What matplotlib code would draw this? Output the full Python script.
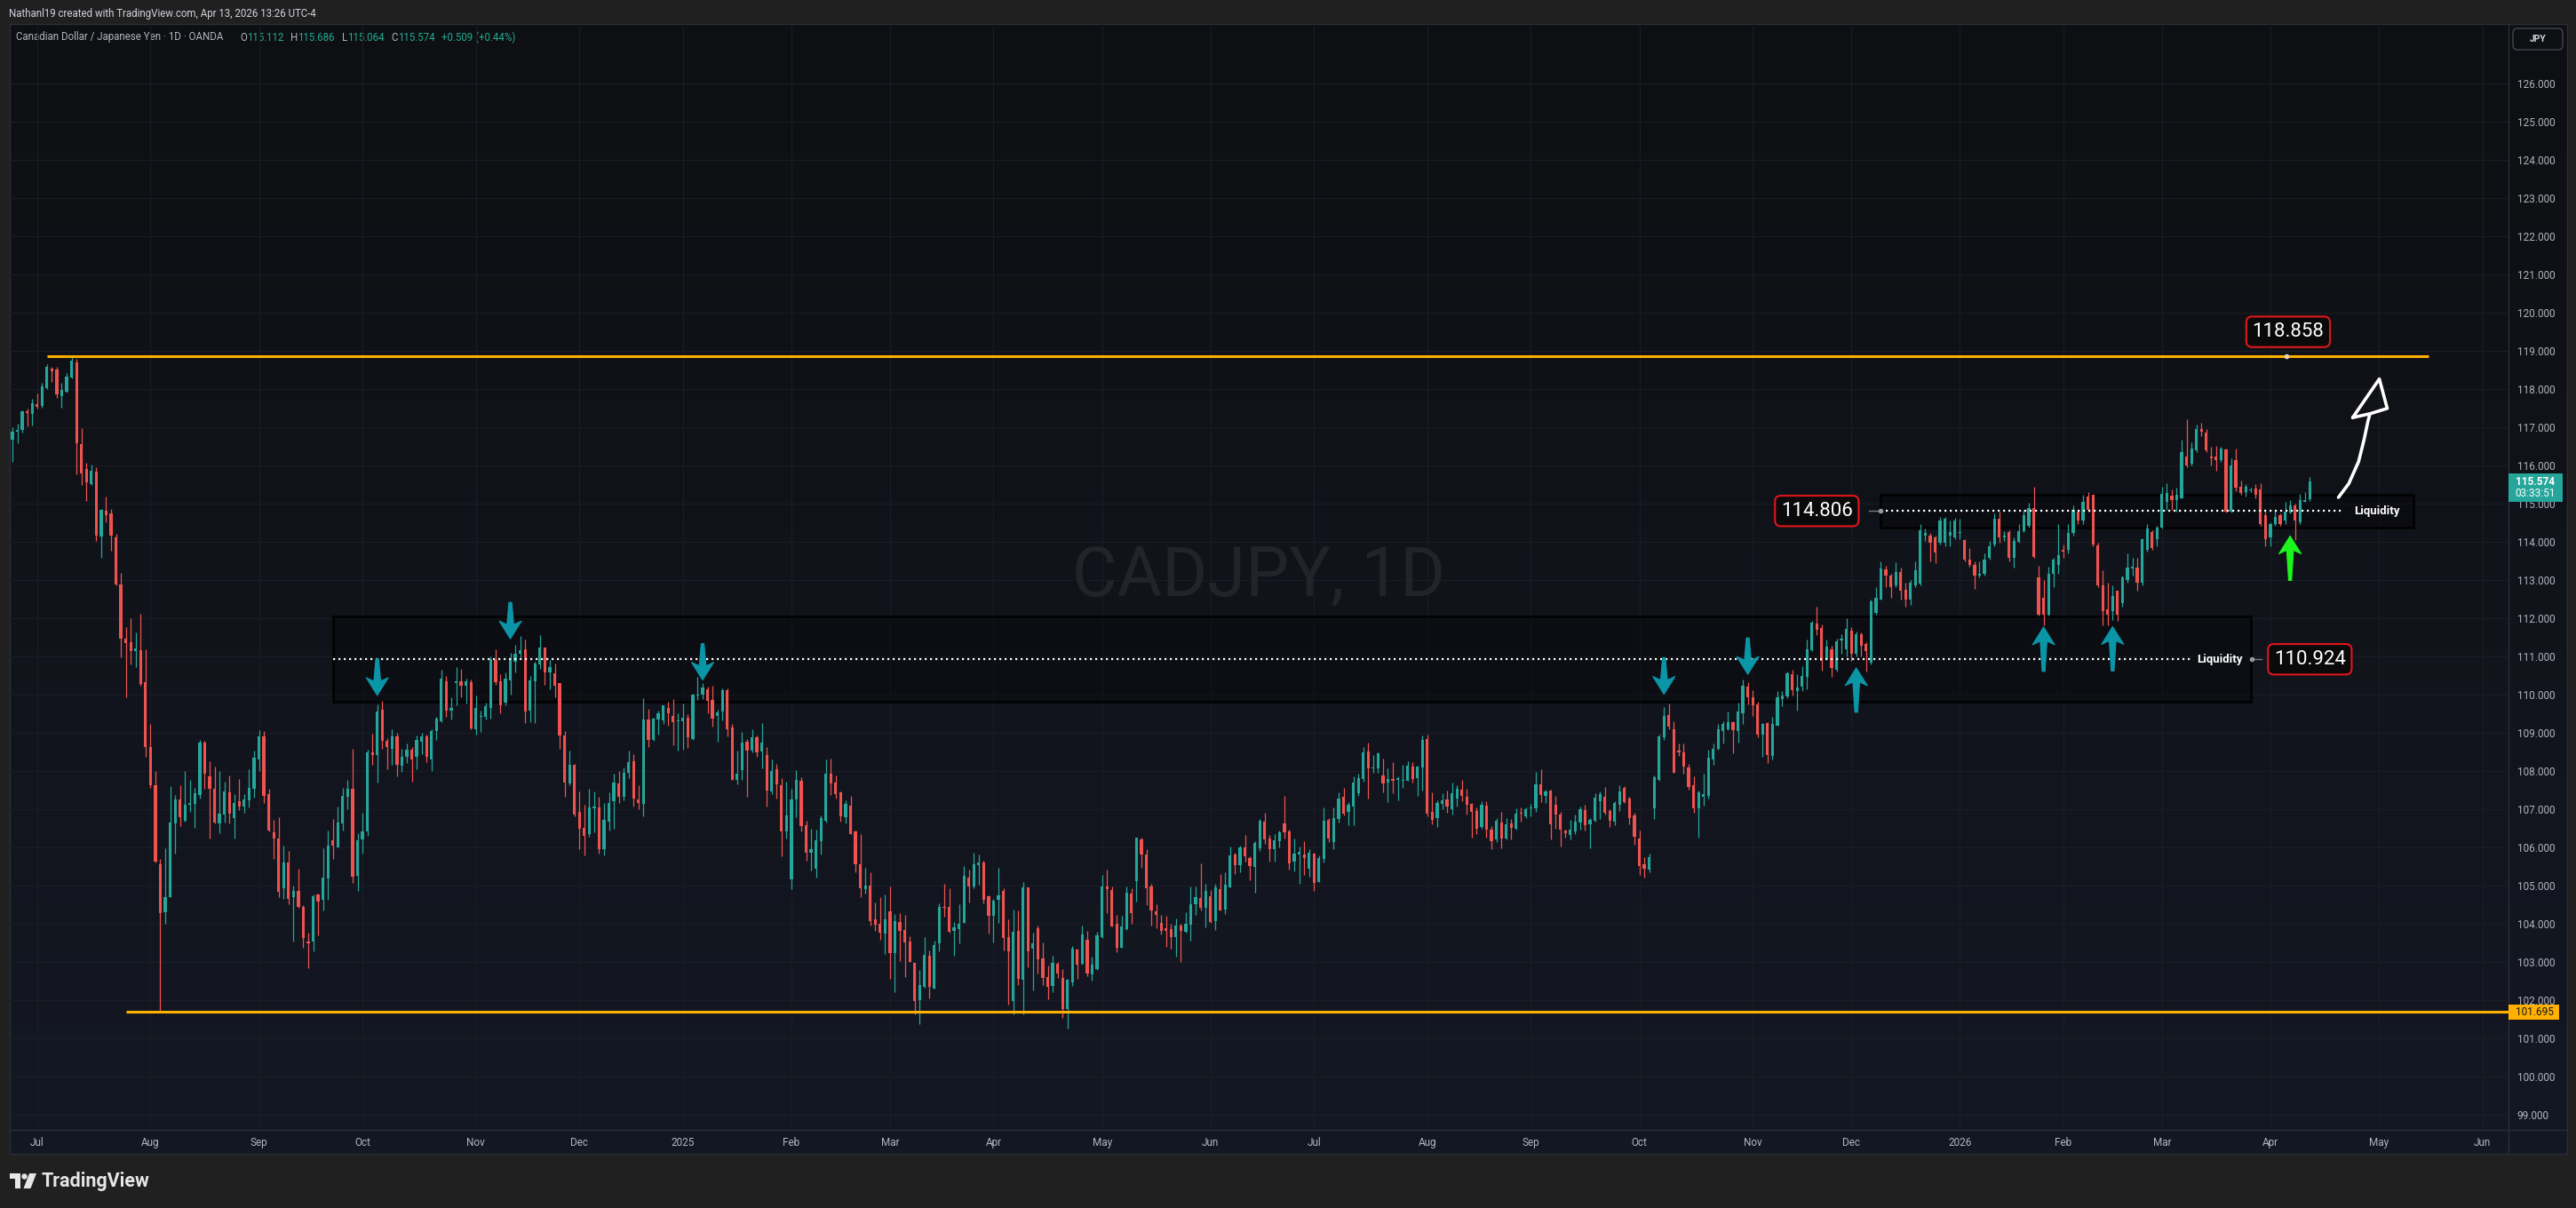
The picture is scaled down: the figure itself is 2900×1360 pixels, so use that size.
import numpy as np
import pandas as pd
import matplotlib
matplotlib.use("Agg")
import matplotlib.pyplot as plt
import matplotlib.transforms as mtransforms
from matplotlib.colors import LinearSegmentedColormap
from matplotlib.patches import Rectangle, Polygon, FancyBboxPatch, Circle

plt.rcParams['font.family'] = ['Roboto', 'DejaVu Sans']

# ---- CADJPY daily candles (OANDA) ----
first_day = '2024-06-24'
closed_days = ['2024-12-25', '2025-01-01', '2025-12-25', '2026-01-01']

opens = [
    116.68, 116.87, 116.93, 117.42, 117.34, 117.60, 117.55, 118.03, 118.53, 118.51,
    117.82, 117.93, 118.29, 118.69, 116.56, 115.91, 115.52, 115.83, 114.13, 114.81,
    114.74, 114.12, 112.89, 111.46, 111.36, 111.13, 111.17, 110.32, 108.63, 107.62,
    105.55, 104.31, 104.70, 106.63, 107.26, 106.69, 107.11, 107.14, 107.37, 108.75,
    107.86, 107.54, 106.62, 106.86, 107.44, 106.78, 107.21, 107.07, 107.24, 107.53,
    108.31, 108.90, 107.39, 106.40, 106.24, 104.93, 105.61, 104.69, 104.86, 104.45,
    103.54, 103.53, 104.76, 104.62, 105.18, 106.18, 106.01, 106.62, 107.33, 107.54,
    105.25, 106.20, 106.42, 108.48, 108.42, 109.61, 108.79, 108.59, 108.90, 108.15,
    108.37, 108.56, 108.37, 108.77, 108.90, 108.31, 109.04, 109.30, 110.35, 109.59,
    110.31, 110.35, 110.23, 110.33, 109.10, 109.41, 109.43, 109.66, 110.90, 110.35,
    109.79, 110.38, 110.87, 111.08, 111.18, 109.58, 110.35, 110.80, 111.23, 110.59,
    110.56, 110.30, 108.93, 107.68, 108.17, 106.93, 106.51, 106.36, 107.03, 107.05,
    105.96, 106.68, 107.20, 107.68, 107.33, 107.96, 108.26, 107.26, 107.13, 109.35,
    108.82, 109.36, 109.33, 109.65, 109.45, 109.30, 109.30, 109.40, 108.84, 109.98,
    110.00, 110.14, 109.86, 109.44, 109.56, 110.12, 109.14, 107.77, 108.03, 108.76,
    108.54, 108.88, 108.52, 108.42, 107.47, 108.05, 107.63, 106.43, 105.17, 107.26,
    107.75, 106.58, 105.86, 105.44, 106.17, 106.71, 107.94, 107.71, 107.44, 106.79,
    107.10, 106.43, 105.56, 104.91, 105.00, 104.12, 104.00, 103.75, 104.33, 103.24,
    104.05, 103.84, 103.54, 102.98, 102.00, 102.36, 103.17, 102.31, 103.50, 104.44,
    104.44, 103.82, 103.87, 104.03, 105.21, 104.99, 105.54, 105.61, 104.72, 104.21,
    104.62, 104.86, 103.65, 101.97, 103.82, 102.55, 104.96, 103.36, 103.89, 103.10,
    102.61, 102.38, 102.96, 102.58, 101.76, 102.48, 103.33, 102.96, 103.58, 102.68,
    102.82, 103.65, 104.98, 104.89, 104.00, 103.38, 103.86, 104.79, 105.13, 106.21,
    105.82, 104.98, 104.33, 104.03, 103.89, 103.86, 103.66, 103.96, 103.80, 103.99,
    104.51, 104.68, 104.43, 104.72, 104.08, 104.91, 104.38, 104.95, 105.82, 105.54,
    106.00, 105.72, 105.50, 105.98, 106.68, 106.23, 105.96, 106.17, 106.63, 106.42,
    105.64, 105.82, 105.82, 105.45, 105.85, 105.10, 105.71, 106.72, 106.13, 106.75,
    107.33, 106.94, 107.06, 107.43, 107.80, 108.51, 108.08, 108.07, 107.88, 107.71,
    107.80, 107.77, 107.75, 107.75, 108.12, 107.82, 108.10, 108.84, 106.93, 106.78,
    107.15, 107.26, 107.01, 107.29, 107.51, 107.33, 107.14, 106.96, 106.54, 107.10,
    106.47, 106.22, 106.65, 106.24, 106.63, 106.49, 106.92, 106.82, 107.02, 107.02,
    107.65, 107.36, 107.49, 107.12, 106.86, 106.45, 106.33, 106.43, 106.66, 106.98,
    106.61, 106.71, 107.21, 107.33, 106.95, 106.68, 107.12, 107.57, 107.29, 106.84,
    106.24, 105.56, 105.43, 107.03, 107.78, 108.88, 109.47, 109.09, 108.54, 108.49,
    108.09, 107.63, 107.02, 107.33, 107.35, 108.30, 108.58, 109.05, 109.10, 109.28,
    109.05, 109.51, 110.21, 109.93, 109.74, 108.95, 109.26, 108.40, 109.19, 109.89,
    109.95, 110.53, 110.10, 110.21, 110.47, 111.16, 111.86, 111.74, 110.94, 111.18,
    110.65, 111.42, 111.18, 111.68, 111.08, 111.59, 111.33, 110.84, 112.14, 112.48,
    113.27, 113.11, 112.87, 113.20, 112.74, 112.48, 112.87, 112.90, 114.17, 114.17,
    114.12, 113.98, 113.98, 114.17, 114.12, 114.23, 114.05, 113.54, 113.40, 113.11,
    113.16, 113.59, 113.93, 114.60, 114.12, 114.26, 113.59, 113.99, 114.28, 114.41,
    114.89, 113.06, 112.53, 112.10, 113.16, 113.40, 113.78, 113.78, 114.22, 114.79,
    114.55, 115.18, 115.23, 113.91, 112.87, 112.24, 112.19, 112.72, 112.39, 113.01,
    113.30, 113.32, 112.92, 113.78, 114.26, 114.07, 114.36, 115.04, 115.21, 115.08,
    115.13, 116.24, 116.05, 116.39, 116.96, 116.85, 116.24, 116.24, 116.14, 116.41,
    114.79, 116.14, 115.44, 115.31, 115.34, 115.39, 115.37, 114.70, 114.12, 114.46,
    114.70, 114.55, 114.77, 114.94, 114.51, 115.05, 115.112,
]
highs = [
    117.00, 117.09, 117.44, 117.48, 117.74, 117.87, 118.15, 118.65, 118.58, 118.57,
    118.17, 118.42, 118.86, 118.79, 116.97, 116.07, 116.02, 115.95, 114.86, 115.18,
    114.85, 114.21, 113.18, 111.76, 111.99, 111.62, 112.12, 111.18, 109.24, 108.00,
    105.69, 105.99, 107.61, 107.37, 107.62, 108.00, 107.76, 107.55, 108.82, 108.79,
    108.26, 108.11, 108.00, 107.72, 107.88, 107.39, 107.79, 107.39, 108.04, 108.53,
    109.07, 109.04, 107.54, 106.73, 106.79, 106.05, 105.91, 105.00, 105.45, 104.49,
    103.76, 104.77, 104.80, 105.97, 106.45, 106.75, 107.07, 107.55, 107.76, 108.59,
    106.38, 106.91, 108.56, 108.97, 109.75, 109.83, 108.86, 109.10, 109.00, 108.59,
    108.73, 108.64, 108.93, 109.00, 108.96, 109.10, 109.41, 110.66, 110.48, 109.92,
    110.73, 110.68, 110.41, 110.40, 109.98, 109.58, 109.79, 111.01, 111.19, 110.53,
    110.57, 111.09, 111.30, 111.53, 111.44, 110.49, 110.86, 111.56, 111.23, 110.91,
    110.81, 110.30, 109.05, 108.54, 108.19, 107.47, 107.12, 107.54, 107.47, 107.33,
    107.16, 107.44, 107.94, 108.00, 108.09, 108.54, 108.44, 107.63, 109.91, 109.63,
    109.39, 109.58, 109.72, 109.81, 109.88, 109.51, 109.77, 109.49, 110.02, 110.46,
    110.30, 110.22, 110.23, 109.60, 110.16, 110.16, 109.23, 108.54, 109.02, 108.83,
    109.09, 108.94, 109.26, 108.62, 108.30, 108.19, 107.81, 107.73, 107.53, 108.02,
    107.84, 106.70, 106.49, 106.47, 106.85, 108.30, 108.33, 107.89, 107.46, 107.24,
    107.35, 106.44, 106.35, 105.47, 105.35, 104.55, 104.69, 104.77, 104.98, 104.25,
    104.28, 104.24, 103.68, 102.98, 102.80, 103.65, 103.30, 103.55, 104.54, 105.05,
    104.93, 104.05, 104.52, 105.51, 105.43, 105.86, 105.82, 105.65, 104.75, 104.65,
    105.47, 104.93, 104.12, 104.37, 104.35, 105.10, 104.96, 103.77, 103.96, 103.51,
    102.91, 103.17, 103.00, 102.82, 102.57, 103.42, 103.36, 103.96, 103.82, 103.14,
    103.80, 105.28, 105.42, 104.98, 104.23, 104.21, 104.98, 104.93, 106.26, 106.26,
    105.96, 105.05, 104.51, 104.23, 104.21, 104.00, 104.14, 104.00, 104.30, 104.98,
    104.98, 105.58, 105.05, 104.89, 105.05, 105.30, 105.35, 106.03, 105.86, 106.05,
    106.33, 105.77, 106.17, 106.75, 106.91, 106.33, 106.35, 106.44, 107.35, 106.47,
    106.23, 106.02, 106.16, 105.96, 105.87, 105.79, 107.05, 106.77, 107.05, 107.44,
    107.56, 107.19, 107.86, 107.93, 108.63, 108.74, 108.42, 108.49, 108.33, 108.07,
    108.24, 107.86, 108.16, 108.26, 108.23, 108.15, 108.93, 108.95, 107.44, 107.23,
    107.42, 107.49, 107.70, 107.63, 107.77, 107.54, 107.16, 107.05, 107.21, 107.21,
    106.57, 106.77, 106.93, 106.77, 106.75, 107.02, 107.05, 107.05, 107.14, 107.98,
    108.05, 107.51, 107.52, 107.35, 106.93, 106.47, 106.72, 106.87, 107.07, 107.12,
    106.78, 107.42, 107.47, 107.59, 107.00, 107.21, 107.63, 107.60, 107.33, 106.91,
    106.45, 105.75, 105.84, 107.88, 108.95, 109.67, 109.76, 109.30, 108.71, 108.71,
    108.19, 107.86, 107.49, 107.93, 108.57, 108.72, 109.23, 109.30, 109.56, 109.31,
    109.79, 110.39, 110.32, 110.12, 109.81, 109.26, 109.28, 109.42, 110.09, 110.09,
    110.60, 110.65, 110.53, 110.74, 111.44, 111.93, 112.30, 111.84, 111.44, 111.28,
    111.47, 111.57, 112.00, 111.76, 111.66, 111.63, 111.37, 112.48, 112.82, 113.49,
    113.37, 113.16, 113.46, 113.32, 112.92, 113.01, 113.49, 114.46, 114.34, 114.22,
    114.17, 114.65, 114.65, 114.55, 114.62, 114.60, 114.07, 113.83, 113.49, 113.49,
    113.69, 114.02, 114.75, 114.79, 114.28, 114.30, 114.12, 114.46, 114.84, 115.01,
    115.44, 113.38, 113.01, 113.35, 113.59, 114.46, 113.93, 114.46, 114.94, 114.84,
    115.23, 115.30, 115.23, 113.98, 113.25, 112.92, 112.87, 112.72, 113.11, 113.69,
    113.59, 113.59, 114.09, 114.46, 114.31, 114.41, 115.44, 115.54, 115.37, 115.42,
    116.67, 117.20, 116.60, 117.06, 117.11, 116.96, 116.48, 116.50, 116.48, 116.43,
    116.19, 116.43, 115.61, 115.52, 115.42, 115.52, 115.54, 114.79, 114.50, 114.84,
    114.75, 115.04, 115.10, 114.99, 115.25, 115.30, 115.686,
]
lows = [
    116.09, 116.58, 116.86, 117.03, 117.04, 117.49, 117.51, 118.00, 118.18, 117.76,
    117.51, 117.91, 118.27, 115.76, 115.49, 115.07, 115.49, 114.03, 113.59, 114.52,
    113.77, 112.86, 110.97, 109.92, 110.78, 110.72, 110.24, 108.37, 107.57, 105.61,
    101.70, 104.00, 104.69, 105.83, 106.57, 106.67, 106.93, 106.52, 107.28, 107.53,
    106.24, 106.63, 106.38, 106.66, 106.62, 106.24, 106.97, 106.91, 107.04, 107.31,
    108.00, 107.17, 106.41, 105.69, 104.70, 104.65, 104.51, 103.54, 104.41, 103.38,
    102.83, 103.29, 103.69, 104.36, 104.62, 105.69, 106.00, 106.45, 107.00, 105.07,
    104.86, 105.84, 106.31, 108.17, 107.69, 108.59, 108.04, 108.17, 107.86, 107.97,
    108.21, 107.73, 108.04, 108.45, 108.23, 108.01, 108.82, 109.28, 109.41, 109.35,
    109.72, 109.94, 109.76, 109.10, 108.96, 109.03, 109.35, 109.38, 110.26, 109.52,
    109.72, 110.01, 110.59, 110.98, 109.26, 109.29, 109.26, 110.68, 110.26, 110.15,
    109.94, 108.59, 107.33, 107.62, 106.81, 105.96, 105.79, 106.29, 106.40, 105.85,
    105.79, 106.45, 106.50, 107.17, 107.24, 107.82, 107.06, 106.99, 106.82, 108.64,
    108.79, 108.96, 109.24, 109.19, 108.68, 108.54, 108.57, 108.61, 108.82, 109.87,
    109.88, 109.52, 109.17, 108.77, 109.33, 108.91, 107.77, 107.66, 107.78, 107.33,
    108.48, 108.38, 108.07, 107.07, 107.40, 107.29, 105.78, 106.23, 104.92, 106.80,
    106.42, 105.65, 105.40, 105.22, 105.82, 106.65, 107.38, 107.27, 106.68, 106.62,
    106.35, 105.34, 104.69, 104.79, 103.96, 103.81, 103.59, 103.22, 102.57, 102.22,
    103.03, 102.60, 103.00, 101.64, 101.38, 102.32, 102.05, 102.31, 103.28, 104.20,
    103.77, 103.17, 103.50, 104.03, 104.55, 104.93, 105.03, 104.54, 103.75, 103.52,
    104.02, 103.30, 101.89, 101.64, 102.39, 101.64, 102.86, 102.26, 102.69, 102.41,
    102.03, 102.22, 102.59, 101.54, 101.27, 102.38, 102.57, 102.94, 102.62, 102.52,
    102.80, 103.64, 104.29, 103.94, 103.27, 103.38, 103.85, 104.00, 104.59, 105.47,
    104.50, 103.96, 103.89, 103.72, 103.41, 103.36, 103.15, 103.01, 103.76, 103.55,
    104.23, 104.34, 103.90, 104.03, 103.85, 104.34, 104.27, 104.95, 105.30, 105.34,
    105.63, 105.15, 104.82, 105.91, 106.10, 105.64, 105.62, 106.01, 106.24, 105.43,
    105.38, 105.06, 105.27, 105.24, 104.87, 105.10, 105.61, 106.13, 105.96, 106.66,
    106.84, 106.59, 106.59, 107.36, 107.73, 107.27, 107.96, 107.95, 107.45, 107.19,
    107.41, 107.24, 107.57, 107.74, 107.71, 107.36, 107.49, 106.82, 106.61, 106.54,
    107.01, 106.92, 106.87, 107.06, 107.22, 106.87, 106.26, 106.36, 106.50, 106.25,
    105.96, 106.15, 105.99, 106.22, 106.22, 106.47, 106.68, 106.78, 106.81, 106.94,
    107.19, 107.17, 106.20, 106.48, 106.03, 106.26, 106.22, 106.36, 106.47, 106.45,
    105.99, 106.68, 106.75, 106.86, 106.54, 106.59, 106.96, 107.16, 106.61, 106.08,
    105.29, 105.22, 105.36, 106.75, 107.74, 108.81, 109.10, 107.95, 108.40, 107.94,
    107.52, 106.92, 106.25, 107.10, 107.28, 108.16, 108.55, 108.71, 109.08, 108.47,
    108.75, 109.24, 109.74, 109.45, 108.88, 108.38, 108.22, 108.30, 109.19, 109.70,
    109.91, 109.98, 109.59, 110.10, 110.15, 111.15, 111.56, 110.62, 110.91, 110.46,
    110.60, 111.08, 110.99, 110.89, 110.99, 110.99, 110.60, 110.80, 112.10, 112.48,
    112.82, 112.53, 112.82, 112.48, 112.29, 112.34, 112.82, 112.87, 114.02, 113.49,
    113.45, 113.93, 113.88, 113.88, 114.07, 114.07, 113.49, 113.35, 112.77, 113.06,
    113.11, 113.54, 113.88, 113.98, 114.02, 113.49, 113.32, 113.98, 114.26, 114.36,
    113.59, 112.07, 111.81, 112.07, 112.82, 113.16, 113.59, 113.69, 114.17, 114.46,
    114.46, 114.79, 113.88, 112.82, 111.81, 111.81, 111.95, 111.93, 112.29, 112.92,
    113.11, 112.72, 112.87, 113.74, 113.78, 113.88, 114.34, 114.84, 114.84, 114.79,
    115.13, 115.95, 116.00, 116.34, 116.77, 116.34, 116.00, 115.86, 116.10, 114.77,
    114.77, 115.32, 115.23, 115.18, 115.31, 115.13, 114.41, 113.88, 113.88, 114.41,
    114.41, 114.46, 114.75, 114.05, 114.46, 115.04, 115.064,
]
closes = [
    116.89, 116.93, 117.41, 117.37, 117.62, 117.53, 118.07, 118.57, 118.46, 117.85,
    117.98, 118.32, 118.73, 116.57, 115.79, 115.55, 115.85, 114.17, 114.83, 114.70,
    114.16, 112.89, 111.46, 111.35, 111.13, 111.22, 110.27, 108.62, 107.62, 105.62,
    104.29, 104.70, 106.66, 107.26, 106.79, 107.11, 107.17, 107.41, 108.75, 107.92,
    107.53, 106.66, 106.89, 107.47, 106.88, 107.17, 107.07, 107.26, 107.55, 108.35,
    108.90, 107.36, 106.44, 106.24, 104.84, 105.61, 104.66, 104.86, 104.45, 103.62,
    103.50, 104.73, 104.58, 105.20, 106.04, 106.04, 106.66, 107.35, 107.54, 105.24,
    106.19, 106.42, 108.49, 108.41, 109.55, 108.78, 108.62, 108.90, 108.17, 108.37,
    108.56, 108.31, 108.82, 108.90, 108.37, 109.04, 109.37, 110.41, 109.59, 109.66,
    110.36, 110.23, 110.35, 109.12, 109.65, 109.45, 109.70, 110.94, 110.33, 109.71,
    110.42, 110.91, 111.07, 111.16, 109.57, 110.37, 110.81, 111.23, 110.59, 110.72,
    110.24, 108.94, 107.71, 108.16, 106.87, 106.50, 106.31, 107.05, 107.06, 105.96,
    106.72, 107.16, 107.70, 107.33, 107.95, 108.23, 107.27, 107.16, 109.35, 108.82,
    109.37, 109.51, 109.72, 109.51, 109.29, 109.33, 109.40, 108.88, 110.01, 110.00,
    110.19, 109.84, 109.38, 109.54, 110.12, 109.10, 107.77, 107.94, 108.75, 108.54,
    108.88, 108.50, 108.75, 107.49, 108.00, 107.66, 106.43, 106.85, 107.26, 107.77,
    106.56, 105.86, 105.96, 106.19, 106.78, 107.93, 107.67, 107.40, 106.82, 107.14,
    106.36, 105.55, 104.94, 105.00, 104.08, 103.99, 103.78, 104.12, 103.24, 104.07,
    103.82, 103.52, 103.01, 101.97, 102.40, 103.19, 102.36, 103.45, 104.44, 104.42,
    103.79, 103.91, 104.00, 105.26, 104.99, 105.56, 105.61, 104.64, 104.21, 104.61,
    104.75, 103.62, 103.29, 103.79, 102.56, 104.96, 103.29, 103.50, 103.07, 102.59,
    102.36, 102.98, 102.69, 101.77, 102.55, 103.35, 102.94, 103.72, 102.70, 102.93,
    103.71, 104.98, 104.92, 103.94, 103.38, 103.93, 104.82, 104.29, 106.26, 105.82,
    104.94, 104.36, 104.24, 103.82, 103.82, 103.66, 103.96, 103.82, 104.00, 104.51,
    104.70, 104.43, 104.86, 104.05, 104.96, 104.36, 105.03, 105.79, 105.54, 106.00,
    105.76, 105.51, 106.12, 106.70, 106.22, 105.96, 106.19, 106.40, 106.40, 105.59,
    105.84, 105.89, 105.72, 105.86, 105.08, 105.72, 106.70, 106.24, 106.77, 107.28,
    106.88, 107.12, 107.70, 107.82, 108.49, 108.08, 108.10, 108.47, 107.68, 107.80,
    107.75, 107.82, 107.78, 108.14, 107.80, 108.12, 108.81, 106.88, 106.73, 107.16,
    107.23, 107.06, 107.42, 107.54, 107.36, 107.12, 106.94, 106.50, 107.12, 106.47,
    106.17, 106.71, 106.24, 106.61, 106.51, 106.88, 106.89, 107.00, 107.05, 107.65,
    107.38, 107.47, 106.61, 106.87, 106.47, 106.38, 106.47, 106.68, 107.00, 106.59,
    106.72, 107.30, 107.40, 106.91, 106.71, 107.17, 107.47, 107.19, 106.78, 106.29,
    105.52, 105.45, 105.75, 107.84, 108.91, 109.44, 109.17, 107.95, 108.50, 108.11,
    107.58, 107.02, 107.44, 107.40, 108.35, 108.58, 109.09, 109.23, 109.28, 109.07,
    109.56, 110.23, 109.93, 109.71, 108.95, 109.23, 108.42, 109.23, 109.93, 109.98,
    110.56, 110.12, 110.19, 110.49, 111.18, 111.88, 111.70, 110.89, 111.25, 110.70,
    111.39, 111.47, 111.71, 111.08, 111.59, 111.28, 111.13, 112.43, 112.53, 113.30,
    113.11, 112.82, 113.20, 112.72, 112.48, 112.92, 113.25, 114.31, 114.22, 113.98,
    113.73, 114.55, 114.60, 114.26, 114.55, 114.26, 113.54, 113.40, 113.11, 113.16,
    113.54, 113.88, 114.60, 114.12, 114.17, 113.59, 114.02, 114.28, 114.70, 114.89,
    113.61, 112.10, 112.10, 113.16, 113.54, 113.64, 113.74, 114.22, 114.84, 114.55,
    115.04, 114.84, 113.93, 112.87, 112.19, 112.10, 112.58, 112.10, 113.06, 113.32,
    113.35, 112.92, 114.07, 114.34, 113.83, 114.38, 115.25, 115.28, 115.08, 115.23,
    116.34, 116.00, 116.43, 116.96, 116.87, 116.39, 116.19, 116.14, 116.43, 114.79,
    116.00, 115.42, 115.28, 115.44, 115.37, 115.23, 114.46, 114.07, 114.46, 114.65,
    114.46, 114.79, 114.94, 114.55, 115.08, 115.08, 115.574,
]

symbol = 'CADJPY, 1D'
pair_name = 'Canadian Dollar / Japanese Yen \u00b7 1D \u00b7 OANDA'
author_line = 'Nathanl19 created with TradingView.com, Apr 13, 2026 13:26 UTC-4'
day_change = 0.509
day_change_pct = 0.44
countdown = '03:33:51'

# ---- drawings on the chart ----
resistance = 118.858
resistance_days = ['2024-07-03', '2026-05-15']
support = 101.695
support_start = '2024-07-25'

zone_low_days = ['2024-09-23', '2026-03-26']
zone_low_prices = [109.81, 112.05]
zone_low_level = 110.924
zone_high_days = ['2025-12-09', '2026-05-12']
zone_high_prices = [114.36, 115.22]
zone_high_level = 114.806
liq_line_end_days = ['2026-03-10', '2026-04-22']
liq_text_days = ['2026-03-11', '2026-04-24']
level_label_days = ['2026-04-13', '2025-11-20', '2026-04-06']

down_arrow_days = ['2024-10-04', '2024-11-12', '2025-01-08', '2025-10-08', '2025-10-31']
down_arrow_tips = [109.98, 111.46, 110.38, 110.01, 110.53]
up_arrow_days = ['2025-12-02', '2026-01-27', '2026-02-16']
up_arrow_tips = [110.70, 111.77, 111.78]
green_arrow_day = '2026-04-07'
green_arrow_tip = 114.15

sketch_bars = [471.8, 473.9, 475.9, 477.0, 477.8, 478.2]
sketch_prices = [115.16, 115.52, 116.10, 116.67, 117.16, 117.35]
sketch_head_bars = [474.7, 480.1, 481.7, 478.2, 474.7]
sketch_head_prices = [117.25, 118.26, 117.49, 117.35, 117.25]

UP, DOWN = '#26a69a', '#ef5350'
TEAL_ARROW, GREEN_ARROW = '#0b96a8', '#1cf51c'
ORANGE = '#ffb000'
TEXT = '#b2b5be'

# ---- trading days (bar index axis) ----
days = pd.bdate_range(first_day, periods=560)
days = days[~days.isin(pd.to_datetime(closed_days))]
pos = {d: i for i, d in enumerate(days)}


def bar(d):
    return pos[pd.Timestamp(d)]


W, H = 2900, 1360
fig = plt.figure(figsize=(W / 100, H / 100), dpi=100, facecolor='#202020')

# background / frame layer in pixel coordinates
bg = fig.add_axes([0, 0, 1, 1], zorder=0)
grad = np.linspace(0, 1, 256)[:, None]
pane_cmap = LinearSegmentedColormap.from_list('pane', ['#0e0f12', '#141823'])
bg.imshow(grad, extent=[11, 2890, 1299, 27], cmap=pane_cmap, aspect='auto', zorder=0)
bg.set_xlim(0, W)
bg.set_ylim(H, 0)
bg.axis('off')
frame = '#2a2e39'
bg.plot([11, 2890, 2890, 11, 11], [27, 27, 1299, 1299, 27], color=frame, lw=1, zorder=1)
bg.plot([2824, 2824], [27, 1299], color=frame, lw=1, zorder=1)
bg.plot([11, 2890], [1272, 1272], color=frame, lw=1, zorder=1)

bg.text(10, 15, author_line, fontsize=8.3, color='#d1d4dc', va='center', zorder=5)
o_last, h_last, l_last, c_last = opens[-1], highs[-1], lows[-1], closes[-1]
hdr_val = '#22ab94'
bg.text(18, 42, pair_name, fontsize=8.3, color=TEXT, va='center', zorder=5)
for xl, key, xv, val in [(270, 'O', 278, o_last), (327, 'H', 335, h_last),
                         (385, 'L', 391, l_last), (440, 'C', 448, c_last)]:
    bg.text(xl, 42, key, fontsize=8.3, color=TEXT, va='center', zorder=5)
    bg.text(xv, 42, f'{val:.3f}', fontsize=8.3, color=hdr_val, va='center', zorder=5)
bg.text(497, 42, f'+{day_change:.3f} (+{day_change_pct:.2f}%)', fontsize=8.3,
        color=hdr_val, va='center', zorder=5)

# JPY currency box on the price scale
bg.add_patch(FancyBboxPatch((2829, 32), 56, 24, boxstyle='round,pad=0,rounding_size=5',
                            fc='none', ec='#434651', lw=1, zorder=3))
bg.text(2857, 44, 'JPY', fontsize=7.5, fontweight='bold', color='#d1d4dc',
        ha='center', va='center', zorder=5)

# TradingView logo
logo = '#e6e6e6'
bg.add_patch(Polygon([(11, 1321), (23, 1321), (23, 1338), (17, 1338), (17, 1327), (11, 1327)],
                     closed=True, fc=logo, ec='none', zorder=5))
bg.add_patch(Circle((27.5, 1324.5), 3.2, fc=logo, ec='none', zorder=5))
bg.add_patch(Polygon([(33, 1321), (41, 1321), (34.5, 1338), (26.5, 1338)],
                     closed=True, fc=logo, ec='none', zorder=5))
bg.text(47, 1330, 'TradingView', fontsize=15.5, fontweight='bold', color=logo,
        va='center', zorder=5)

# ---- main price pane ----
ax = fig.add_axes([11 / W, (H - 1272) / H, (2824 - 11) / W, (1272 - 27) / H], zorder=1)
ax.set_facecolor('none')
ax.set_xlim(-0.54, 506.3)
ax.set_ylim(98.61, 127.55)
for s in ax.spines.values():
    s.set_visible(False)

ticks, tick_labels = [], []
for i in range(1, len(days)):
    if days[i].month != days[i - 1].month and i < 506:
        ticks.append(i)
        tick_labels.append(str(days[i].year) if days[i].month == 1 else days[i].strftime('%b'))
ax.set_xticks(ticks)
ax.set_xticklabels(tick_labels)
price_ticks = list(range(99, 127))
ax.yaxis.tick_right()
ax.set_yticks(price_ticks)
ax.set_yticklabels([f'{v:.3f}' for v in price_ticks])
ax.tick_params(axis='x', length=0, pad=6, labelsize=8.5, labelcolor=TEXT)
ax.tick_params(axis='y', length=0, pad=7, labelsize=8.5, labelcolor=TEXT)
ax.set_axisbelow(True)
ax.grid(True, color='#1a1d25', lw=0.8)

ax.text(0.5, 0.5, symbol, transform=ax.transAxes, ha='center', va='center',
        fontsize=56, color='#222429', zorder=1)

# candles
o, h, l, c = map(np.array, (opens, highs, lows, closes))
x = np.arange(len(c))
cols = np.where(c >= o, UP, DOWN)
ax.vlines(x, l, h, colors=cols, lw=0.9, zorder=3)
ax.bar(x, np.maximum(np.abs(c - o), 0.025), bottom=np.minimum(o, c), width=0.58,
       color=cols, lw=0, zorder=4)

# horizontal levels
x_right = ax.get_xlim()[1]
ax.plot([bar(resistance_days[0]), bar(resistance_days[1])], [resistance, resistance],
        color=ORANGE, lw=2.2, zorder=5, solid_capstyle='butt')
ax.plot([bar(support_start), x_right], [support, support], color=ORANGE, lw=2.2,
        zorder=5, solid_capstyle='butt')

# liquidity zones
for zdays, zpr in [(zone_low_days, zone_low_prices), (zone_high_days, zone_high_prices)]:
    x0, x1 = bar(zdays[0]), bar(zdays[1])
    ax.add_patch(Rectangle((x0, zpr[0]), x1 - x0, zpr[1] - zpr[0], fc=(0, 0, 0, 0.28),
                           ec=(0, 0, 0, 0.8), lw=2.2, zorder=2))

dots = dict(color='white', lw=1.6, ls=(0, (1, 1.7)), zorder=6, dash_capstyle='butt')
ax.plot([bar(zone_low_days[0]), bar(liq_line_end_days[0])], [zone_low_level] * 2, **dots)
ax.plot([bar(zone_high_days[0]), bar(liq_line_end_days[1])], [zone_high_level] * 2, **dots)
for d, lvl in zip(liq_text_days, [zone_low_level, zone_high_level]):
    ax.text(bar(d), lvl, 'Liquidity', color='white', fontsize=9.5, fontweight='bold',
            ha='left', va='center', zorder=7)

# small grey anchors next to the price labels
ax.plot([bar(zone_low_days[1]) + 0.2, bar(zone_low_days[1]) + 2.2], [zone_low_level] * 2,
        color='#787b86', lw=1, zorder=6)
ax.plot([bar(zone_low_days[1]) + 0.2], [zone_low_level], 'o', ms=3, color='#9598a1', zorder=6)
ax.plot([bar(zone_high_days[0]) - 2.4, bar(zone_high_days[0])], [zone_high_level] * 2,
        color='#787b86', lw=1, zorder=6)
ax.plot([bar(zone_high_days[0])], [zone_high_level], 'o', ms=3, color='#9598a1', zorder=6)
ax.plot([bar(level_label_days[2]) + 0.3], [resistance], 'o', ms=3, color='#e6d6a8', zorder=6)

# price labels with red borders
lab = dict(fontsize=16, color='white', ha='center', va='center', zorder=9,
           bbox=dict(boxstyle='round,pad=0.3,rounding_size=0.3', fc='#0a0a0a',
                     ec='#e0161b', lw=1.5))
ax.text(bar(level_label_days[0]), zone_low_level, f'{zone_low_level:.3f}', **lab)
ax.text(bar(level_label_days[1]), zone_high_level, f'{zone_high_level:.3f}', **lab)
ax.annotate(f'{resistance:.3f}', (bar(level_label_days[2]) + 0.6, resistance),
            xytext=(0, 19.7), textcoords='offset points', **lab)


# arrow markers (shape in pixels, anchored at the tip)
def arrow(xb, yp, color, length, pointing_up):
    hw, head = 12.5, 20
    pts = [(0, 0), (hw, head), (3.8, head - 4), (1.6, length), (-1.6, length),
           (-3.8, head - 4), (-hw, head)]
    sign = -1 if pointing_up else 1
    pts = [(px / 100, sign * py / 100) for px, py in pts]
    trans = fig.dpi_scale_trans + mtransforms.ScaledTranslation(xb, yp, ax.transData)
    ax.add_patch(Polygon(pts, closed=True, fc=color, ec=color, lw=0.8, transform=trans,
                         zorder=8, clip_on=False, joinstyle='round'))


for d, tip in zip(down_arrow_days, down_arrow_tips):
    arrow(bar(d), tip, TEAL_ARROW, 41, False)
for d, tip in zip(up_arrow_days, up_arrow_tips):
    arrow(bar(d), tip, TEAL_ARROW, 50, True)
arrow(bar(green_arrow_day), green_arrow_tip, GREEN_ARROW, 50, True)

# hand-drawn projection arrow
ax.plot(sketch_bars, sketch_prices, color='white', lw=2.6, solid_capstyle='round',
        solid_joinstyle='round', zorder=9)
ax.plot(sketch_head_bars, sketch_head_prices, color='white', lw=2.6,
        solid_capstyle='round', solid_joinstyle='round', zorder=9)

# labels on the price scale
scale = mtransforms.blended_transform_factory(ax.transAxes, ax.transData)


def scale_box(price, top, bottom, width, color):
    pts = [(0, top), (width, top), (width, bottom), (0, bottom)]
    pts = [(px / 100, py / 100) for px, py in pts]
    trans = fig.dpi_scale_trans + mtransforms.ScaledTranslation(1.0, price, scale)
    ax.add_patch(Polygon(pts, closed=True, fc=color, ec='none', transform=trans,
                         zorder=10, clip_on=False))


scale_box(c_last, 9, -23, 61, '#26a69a')
ax.annotate(f'{c_last:.3f}', (1.0, c_last), xycoords=scale, xytext=(30 * 0.72, 0),
            textcoords='offset points', ha='center', va='center', fontsize=8.5,
            fontweight='bold', color='white', zorder=11, annotation_clip=False)
ax.annotate(countdown, (1.0, c_last), xycoords=scale, xytext=(30 * 0.72, -13.5 * 0.72),
            textcoords='offset points', ha='center', va='center', fontsize=8.5,
            color='white', zorder=11, annotation_clip=False)
scale_box(support, 8.3, -8.3, 57, ORANGE)
ax.annotate(f'{support:.3f}', (1.0, support), xycoords=scale, xytext=(29 * 0.72, 0),
            textcoords='offset points', ha='center', va='center', fontsize=8.5,
            color='#131722', zorder=11, annotation_clip=False)

fig.savefig('out.png', dpi=100, facecolor=fig.get_facecolor())
